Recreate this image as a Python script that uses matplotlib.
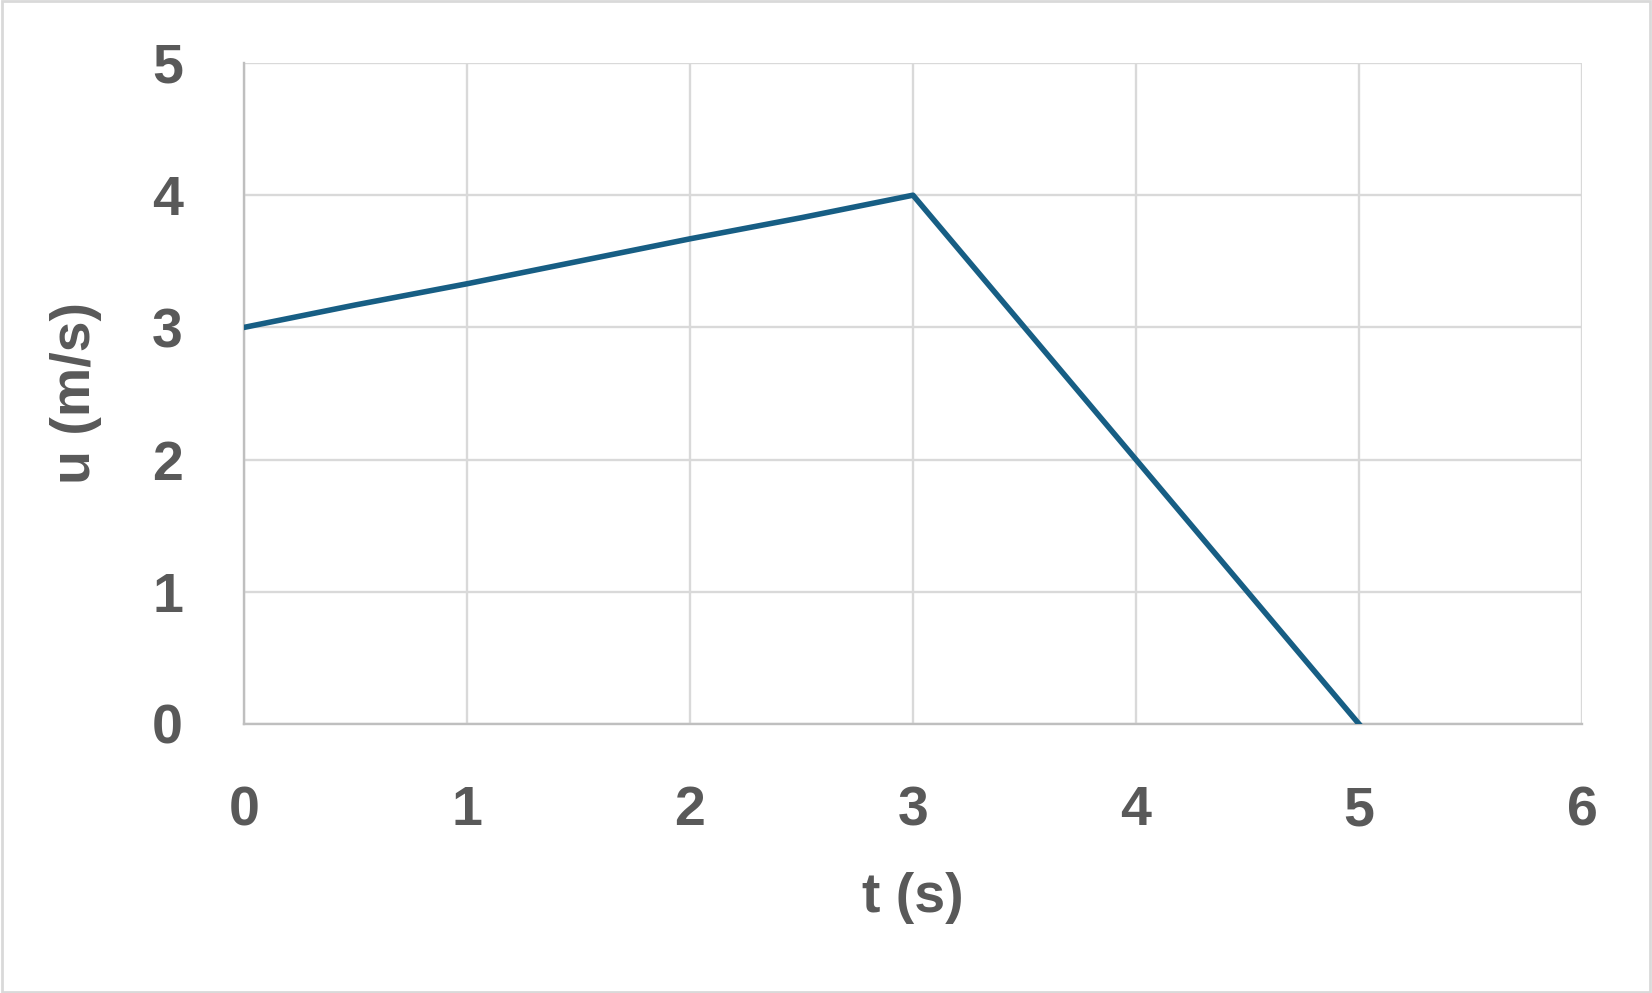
import matplotlib.pyplot as plt
from matplotlib.patches import Rectangle

# velocity vs time data
t_vals = [0, 0.5, 1, 1.5, 2, 2.5, 3, 3.5, 4, 4.5, 5]
u_vals = [3, 3.17, 3.33, 3.5, 3.67, 3.83, 4, 3, 2, 1, 0]
x_ticks = [0, 1, 2, 3, 4, 5, 6]
y_ticks = [0, 1, 2, 3, 4, 5]

plt.rcParams['font.family'] = ['Liberation Sans', 'DejaVu Sans']
txt_color = '#595959'

fig = plt.figure(figsize=(16.52, 9.93), dpi=100)
ax = fig.add_axes([244 / 1652, 1 - 724 / 993, (1582 - 244) / 1652, (724 - 63) / 993])

ax.plot(t_vals, u_vals, color='#175E84', lw=4, solid_joinstyle='round', zorder=3)

ax.set_xlim(0, 6)
ax.set_ylim(0, 5)
ax.set_xticks(x_ticks)
ax.set_yticks(y_ticks)
ax.grid(True, color='#d9d9d9', lw=1.7)
ax.set_axisbelow(True)
for s in ['top', 'right']:
    ax.spines[s].set_visible(False)
for s in ['left', 'bottom']:
    ax.spines[s].set_color('#bfbfbf')
    ax.spines[s].set_linewidth(1.7)
ax.tick_params(length=0, labelsize=40, labelcolor=txt_color, pad=44)
for lab in ax.get_xticklabels() + ax.get_yticklabels():
    lab.set_fontweight('bold')

ax.set_xlabel('t (s)', fontsize=40, fontweight='bold', color=txt_color, labelpad=25)
ax.set_ylabel('u (m/s)', fontsize=40, fontweight='bold', color=txt_color, labelpad=36)

# outer chart border
fig.patches.append(Rectangle((0.001, 0.001), 0.998, 0.998, transform=fig.transFigure,
                             fill=False, edgecolor='#d9d9d9', lw=2))

fig.savefig('out.png', dpi=100)
